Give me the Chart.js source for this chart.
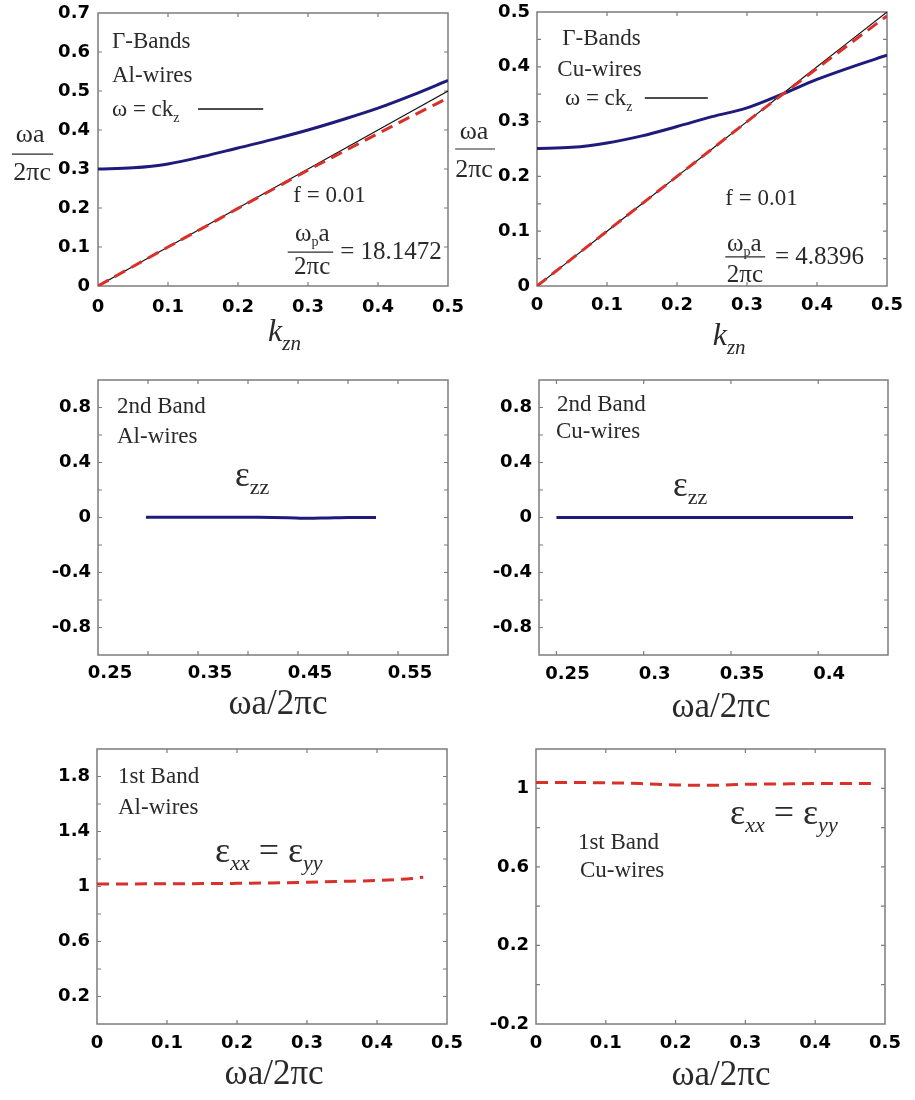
<!DOCTYPE html>
<html><head><meta charset="utf-8">
<script src="https://cdn.jsdelivr.net/npm/chart.js@4.4.1/dist/chart.umd.min.js"></script>
<style>
html,body{margin:0;padding:0;background:#fff;}
#wrap{position:relative;width:915px;height:1100px;overflow:hidden;background:#fff;}
canvas{position:absolute;}
</style></head><body><div id="wrap"></div>
<script>
// ---------- data ----------
const kzn       = [0, 0.05, 0.1, 0.15, 0.2, 0.25, 0.3, 0.35, 0.4, 0.45, 0.5];
const lightLine = [0, 0.05, 0.1, 0.15, 0.2, 0.25, 0.3, 0.35, 0.4, 0.45, 0.5];
const alBand2   = [0.300, 0.303, 0.313, 0.332, 0.354, 0.376, 0.400, 0.427, 0.456, 0.490, 0.527];
const alBand1   = [0, 0.05, 0.1, 0.149, 0.199, 0.248, 0.297, 0.344, 0.391, 0.437, 0.482];
const cuBand2   = [0.251, 0.253, 0.261, 0.274, 0.291, 0.309, 0.325, 0.350, 0.377, 0.400, 0.421];
const cuBand1   = [0, 0.05, 0.1, 0.15, 0.2, 0.25, 0.3, 0.349, 0.397, 0.445, 0.493];

const alFreq2   = [0.298, 0.32, 0.35, 0.38, 0.41, 0.44, 0.46, 0.48, 0.50, 0.528];
const alEpsZZ   = [0.002, 0.002, 0.002, 0.002, 0.001, -0.002, -0.006, -0.003, 0, 0];
const cuFreq2   = [0.25, 0.28, 0.31, 0.34, 0.37, 0.40, 0.42];
const cuEpsZZ   = [0, 0, 0, 0, 0, 0, 0];

const alFreq1   = [0, 0.05, 0.1, 0.15, 0.2, 0.25, 0.3, 0.35, 0.4, 0.45, 0.466];
const alEpsXX   = [1.019, 1.019, 1.02, 1.021, 1.023, 1.026, 1.031, 1.037, 1.044, 1.058, 1.068];
const cuFreq1   = [0, 0.05, 0.1, 0.15, 0.2, 0.25, 0.3, 0.35, 0.4, 0.45, 0.49];
const cuEpsXX   = [1.029, 1.029, 1.028, 1.024, 1.017, 1.015, 1.02, 1.022, 1.024, 1.024, 1.024];

// ---------- ticks ----------
const kTicks    = [0, 0.1, 0.2, 0.3, 0.4, 0.5];
const kLabels   = ['0', '0.1', '0.2', '0.3', '0.4', '0.5'];
const p1YTicks  = [0, 0.1, 0.2, 0.3, 0.4, 0.5, 0.6, 0.7];
const p1YLabels = ['0', '0.1', '0.2', '0.3', '0.4', '0.5', '0.6', '0.7'];
const p2YTicks  = [0, 0.05, 0.1, 0.15, 0.2, 0.25, 0.3, 0.35, 0.4, 0.45, 0.5];
const p2YLabels = ['0', '', '0.1', '', '0.2', '', '0.3', '', '0.4', '', '0.5'];
const p3XTicks  = [0.25, 0.3, 0.35, 0.4, 0.45, 0.5, 0.55, 0.6];
const p3XLabels = ['0.25', '', '0.35', '', '0.45', '', '0.55', ''];
const p4XTicks  = [0.25, 0.3, 0.35, 0.4];
const p4XLabels = ['0.25', '0.3', '0.35', '0.4'];
const zzYTicks  = [-1, -0.8, -0.6, -0.4, -0.2, 0, 0.2, 0.4, 0.6, 0.8, 1];
const zzYLabels = ['', '-0.8', '', '-0.4', '', '0', '', '0.4', '', '0.8', ''];
const p5YTicks  = [0, 0.2, 0.4, 0.6, 0.8, 1, 1.2, 1.4, 1.6, 1.8, 2];
const p5YLabels = ['', '0.2', '', '0.6', '', '1', '', '1.4', '', '1.8', ''];
const p6YTicks  = [-0.2, 0, 0.2, 0.4, 0.6, 0.8, 1, 1.2];
const p6YLabels = ['-0.2', '', '0.2', '', '0.6', '', '1', ''];

// ---------- styles ----------
const BLUE = '#1f1b7c', RED = '#d9302a', BLACK = '#111111';
const SERIF = '"Liberation Serif","Times New Roman",serif';
const TICKFONT = {family: '"DejaVu Sans", Verdana, sans-serif', weight: 'bold', size: 18};
const TXT = '#2a2a2a';
const YAXW = 98, MTOP = 34, MRIGHT = 44, XAXH = 80;

const pts = (xs, ys) => xs.map((x, i) => ({x: x, y: ys[i]}));
function fontOf(r){ return (r.i ? 'italic ' : '') + r.s + 'px ' + SERIF; }

function panelPlugin(items){
  return {
    id: 'panel',
    beforeDatasetsDraw(chart){
      const ctx = chart.ctx, a = chart.chartArea, X = chart.scales.x, Y = chart.scales.y;
      const tl = 4;
      ctx.save();
      ctx.strokeStyle = '#7c7c7c'; ctx.lineWidth = 1.2;
      ctx.beginPath();
      X.ticks.forEach(t => {
        const p = X.getPixelForValue(t.value);
        if (p <= a.left + 1 || p >= a.right - 1) return;
        ctx.moveTo(p, a.bottom); ctx.lineTo(p, a.bottom - tl);
        ctx.moveTo(p, a.top); ctx.lineTo(p, a.top + tl);
      });
      Y.ticks.forEach(t => {
        const p = Y.getPixelForValue(t.value);
        if (p <= a.top + 1 || p >= a.bottom - 1) return;
        ctx.moveTo(a.left, p); ctx.lineTo(a.left + tl, p);
        ctx.moveTo(a.right, p); ctx.lineTo(a.right - tl, p);
      });
      ctx.stroke();
      ctx.lineWidth = 1.5;
      ctx.strokeRect(a.left, a.top, a.right - a.left, a.bottom - a.top);
      ctx.restore();
    },
    afterDraw(chart){
      const ctx = chart.ctx, X = chart.scales.x, Y = chart.scales.y;
      ctx.save();
      items.forEach(it => {
        if (it.type === 'line') {
          ctx.beginPath();
          ctx.moveTo(X.getPixelForValue(it.x1), Y.getPixelForValue(it.y));
          ctx.lineTo(X.getPixelForValue(it.x2), Y.getPixelForValue(it.y));
          ctx.lineWidth = it.w || 1.2; ctx.strokeStyle = it.color || TXT; ctx.stroke();
          return;
        }
        const px = X.getPixelForValue(it.x), py = Y.getPixelForValue(it.y);
        let w = 0;
        it.runs.forEach(r => { ctx.font = fontOf(r); w += ctx.measureText(r.t).width; });
        let cx = it.center ? px - w / 2 : px;
        ctx.textBaseline = 'middle'; ctx.textAlign = 'left'; ctx.fillStyle = it.color || TXT;
        it.runs.forEach(r => {
          ctx.font = fontOf(r);
          ctx.fillText(r.t, cx, py + (r.dy || 0));
          cx += ctx.measureText(r.t).width;
        });
      });
      ctx.restore();
    }
  };
}

function makePanel(c){
  // c.area = [left, top, right, bottom] of the plot box on the page
  const [L, T, R, B] = c.area;
  const cv = document.createElement('canvas');
  cv.width = (R - L) + YAXW + MRIGHT;
  cv.height = (B - T) + MTOP + XAXH;
  cv.style.left = (L - YAXW) + 'px';
  cv.style.top = (T - MTOP) + 'px';
  document.getElementById('wrap').appendChild(cv);
  return new Chart(cv, {
    type: 'line',
    data: {datasets: c.datasets},
    options: {
      responsive: false, animation: false, events: [],
      layout: {padding: {left: 0, top: MTOP, right: MRIGHT, bottom: 0}},
      plugins: {legend: {display: false}, tooltip: {enabled: false}},
      elements: {point: {radius: 0, hoverRadius: 0}, line: {cubicInterpolationMode: 'monotone', borderCapStyle: 'butt'}},
      scales: {
        x: {
          type: 'linear', min: c.xMin, max: c.xMax,
          grid: {display: false, drawTicks: false}, border: {display: false},
          afterFit: s => { s.height = XAXH; },
          afterBuildTicks: s => { s.ticks = c.xTicks.map(v => ({value: v})); },
          ticks: {autoSkip: false, maxRotation: 0, minRotation: 0, padding: c.xPad,
                  labelOffset: c.xLabelOffset || 0, font: TICKFONT, color: '#000',
                  callback: (v, i) => c.xLabels[i]}
        },
        y: {
          type: 'linear', min: c.yMin, max: c.yMax,
          grid: {display: false, drawTicks: false}, border: {display: false},
          afterFit: s => { s.width = YAXW; },
          afterBuildTicks: s => { s.ticks = c.yTicks.map(v => ({value: v})); },
          ticks: {autoSkip: false, padding: c.yPad || 7, font: TICKFONT, color: '#000',
                  callback: (v, i) => c.yLabels[i]}
        }
      }
    },
    plugins: [panelPlugin(c.items)]
  });
}

const redDash = (data) => ({data: data, borderColor: RED, borderWidth: 3, borderDash: [12, 7], fill: false});
const blueLine = (data) => ({data: data, borderColor: BLUE, borderWidth: 3, fill: false});
const blackLine = (data) => ({data: data, borderColor: BLACK, borderWidth: 1.2, fill: false, cubicInterpolationMode: 'default', tension: 0});

// ---------- Panel 1 : Γ-bands Al ----------
makePanel({
  area: [98, 13, 448, 286], xPad: 11, yPad: 8,
  xMin: 0, xMax: 0.5, yMin: 0, yMax: 0.7,
  xTicks: kTicks, xLabels: kLabels, yTicks: p1YTicks, yLabels: p1YLabels,
  datasets: [redDash(pts(kzn, alBand1)), blueLine(pts(kzn, alBand2)), blackLine(pts(kzn, lightLine))],
  items: [
    {x: 0.02, y: 0.626, runs: [{t: 'Γ-Bands', s: 23}]},
    {x: 0.02, y: 0.538, runs: [{t: 'Al-wires', s: 23}]},
    {x: 0.02, y: 0.451, runs: [{t: 'ω = ck', s: 23}, {t: 'z', s: 14, dy: 8}]},
    {type: 'line', x1: 0.143, x2: 0.236, y: 0.454, w: 1.5, color: BLACK},
    {x: 0.279, y: 0.231, runs: [{t: 'f = 0.01', s: 23}]},
    {center: true, x: 0.306, y: 0.131, runs: [{t: 'ω', s: 25}, {t: 'p', s: 14, dy: 7}, {t: 'a', s: 25}]},
    {type: 'line', x1: 0.271, x2: 0.336, y: 0.087, w: 1.2},
    {center: true, x: 0.306, y: 0.047, runs: [{t: '2πc', s: 25}]},
    {x: 0.346, y: 0.085, runs: [{t: '= 18.1472', s: 25}]},
    {center: true, x: -0.097, y: 0.387, runs: [{t: 'ωa', s: 26}]},
    {type: 'line', x1: -0.123, x2: -0.064, y: 0.338, w: 1.2},
    {center: true, x: -0.094, y: 0.290, runs: [{t: '2πc', s: 26}]},
    {x: 0.243, y: -0.12, runs: [{t: 'k', s: 32, i: 1}, {t: 'zn', s: 21, i: 1, dy: 12}]}
  ]
});

// ---------- Panel 2 : Γ-bands Cu ----------
makePanel({
  area: [537, 12, 887, 286], xPad: 9,
  xMin: 0, xMax: 0.5, yMin: 0, yMax: 0.5,
  xTicks: kTicks, xLabels: kLabels, yTicks: p2YTicks, yLabels: p2YLabels,
  datasets: [redDash(pts(kzn, cuBand1)), blueLine(pts(kzn, cuBand2)), blackLine(pts(kzn, lightLine))],
  items: [
    {x: 0.036, y: 0.451, runs: [{t: 'Γ-Bands', s: 23}]},
    {x: 0.029, y: 0.394, runs: [{t: 'Cu-wires', s: 23}]},
    {x: 0.04, y: 0.341, runs: [{t: 'ω = ck', s: 23}, {t: 'z', s: 14, dy: 8}]},
    {type: 'line', x1: 0.154, x2: 0.244, y: 0.343, w: 1.5, color: BLACK},
    {x: 0.269, y: 0.159, runs: [{t: 'f = 0.01', s: 23}]},
    {center: true, x: 0.296, y: 0.075, runs: [{t: 'ω', s: 25}, {t: 'p', s: 14, dy: 7}, {t: 'a', s: 25}]},
    {type: 'line', x1: 0.269, x2: 0.326, y: 0.053, w: 1.2},
    {center: true, x: 0.297, y: 0.020, runs: [{t: '2πc', s: 25}]},
    {x: 0.34, y: 0.053, runs: [{t: '= 4.8396', s: 25}]},
    {center: true, x: -0.09, y: 0.281, runs: [{t: 'ωa', s: 26}]},
    {type: 'line', x1: -0.117, x2: -0.06, y: 0.25, w: 1.2},
    {center: true, x: -0.09, y: 0.212, runs: [{t: '2πc', s: 26}]},
    {x: 0.251, y: -0.093, runs: [{t: 'k', s: 32, i: 1}, {t: 'zn', s: 21, i: 1, dy: 12}]}
  ]
});

// ---------- Panel 3 : 2nd band Al ----------
makePanel({
  area: [98, 380, 448, 655], xPad: 8, xLabelOffset: 12,
  xMin: 0.25, xMax: 0.6, yMin: -1, yMax: 1,
  xTicks: p3XTicks, xLabels: p3XLabels, yTicks: zzYTicks, yLabels: zzYLabels,
  datasets: [blueLine(pts(alFreq2, alEpsZZ))],
  items: [
    {x: 0.269, y: 0.804, runs: [{t: '2nd Band', s: 23}]},
    {x: 0.269, y: 0.585, runs: [{t: 'Al-wires', s: 23}]},
    {x: 0.387, y: 0.295, runs: [{t: 'ε', s: 35}, {t: 'zz', s: 22, dy: 11}]},
    {center: true, x: 0.43, y: -1.364, runs: [{t: 'ωa/2πc', s: 35}]}
  ]
});

// ---------- Panel 4 : 2nd band Cu ----------
makePanel({
  area: [539, 380, 888, 655], xPad: 9, xLabelOffset: 11,
  xMin: 0.24, xMax: 0.44, yMin: -1, yMax: 1,
  xTicks: p4XTicks, xLabels: p4XLabels, yTicks: zzYTicks, yLabels: zzYLabels,
  datasets: [blueLine(pts(cuFreq2, cuEpsZZ))],
  items: [
    {x: 0.2503, y: 0.818, runs: [{t: '2nd Band', s: 23}]},
    {x: 0.2497, y: 0.622, runs: [{t: 'Cu-wires', s: 23}]},
    {x: 0.3168, y: 0.222, runs: [{t: 'ε', s: 35}, {t: 'zz', s: 22, dy: 11}]},
    {center: true, x: 0.3443, y: -1.385, runs: [{t: 'ωa/2πc', s: 35}]}
  ]
});

// ---------- Panel 5 : 1st band Al ----------
makePanel({
  area: [97, 749, 447, 1024], xPad: 9,
  xMin: 0, xMax: 0.5, yMin: 0, yMax: 2,
  xTicks: kTicks, xLabels: kLabels, yTicks: p5YTicks, yLabels: p5YLabels,
  datasets: [redDash(pts(alFreq1, alEpsXX))],
  items: [
    {x: 0.03, y: 1.796, runs: [{t: '1st Band', s: 23}]},
    {x: 0.03, y: 1.571, runs: [{t: 'Al-wires', s: 23}]},
    {x: 0.1686, y: 1.244, runs: [{t: 'ε', s: 36}, {t: 'xx', s: 22, i: 1, dy: 11}, {t: ' = ', s: 36}, {t: 'ε', s: 36}, {t: 'yy', s: 22, i: 1, dy: 11}]},
    {center: true, x: 0.253, y: -0.371, runs: [{t: 'ωa/2πc', s: 35}]}
  ]
});

// ---------- Panel 6 : 1st band Cu ----------
makePanel({
  area: [536, 749, 885, 1024], xPad: 9,
  xMin: 0, xMax: 0.5, yMin: -0.2, yMax: 1.2,
  xTicks: kTicks, xLabels: kLabels, yTicks: p6YTicks, yLabels: p6YLabels,
  datasets: [redDash(pts(cuFreq1, cuEpsXX))],
  items: [
    {x: 0.278, y: 0.864, runs: [{t: 'ε', s: 36}, {t: 'xx', s: 22, i: 1, dy: 11}, {t: ' = ', s: 36}, {t: 'ε', s: 36}, {t: 'yy', s: 22, i: 1, dy: 11}]},
    {x: 0.06, y: 0.7216, runs: [{t: '1st Band', s: 23}]},
    {x: 0.063, y: 0.579, runs: [{t: 'Cu-wires', s: 23}]},
    {center: true, x: 0.265, y: -0.465, runs: [{t: 'ωa/2πc', s: 35}]}
  ]
});
</script>
</body></html>
